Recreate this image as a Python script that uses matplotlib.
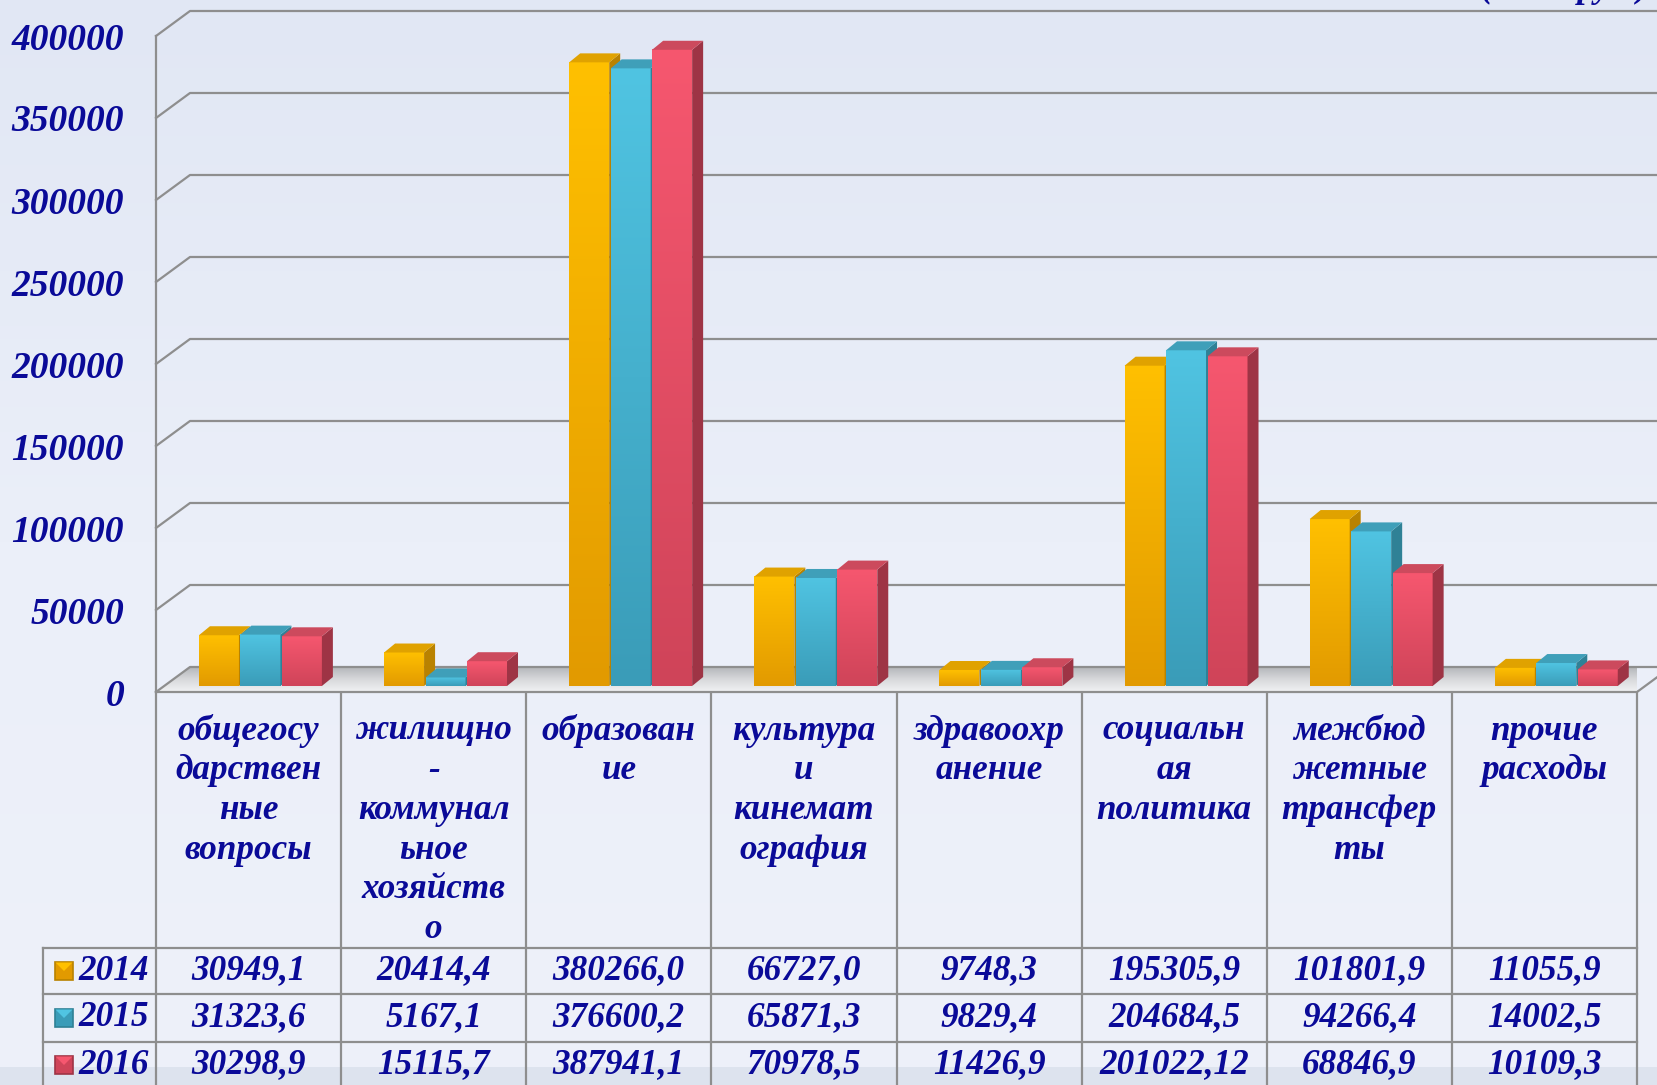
import numpy as np
import matplotlib.pyplot as plt
from matplotlib.patches import Polygon, Rectangle
from matplotlib.colors import LinearSegmentedColormap
from matplotlib.transforms import blended_transform_factory

plt.rcParams['font.family'] = ['Liberation Serif', 'DejaVu Serif']

# --- data -------------------------------------------------------------
categories = [
    'общегосу\nдарствен\nные\nвопросы',
    'жилищно\n-\nкоммунал\nьное\nхозяйств\nо',
    'образован\nие',
    'культура\nи\nкинемат\nография',
    'здравоохр\nанение',
    'социальн\nая\nполитика',
    'межбюд\nжетные\nтрансфер\nты',
    'прочие\nрасходы',
]
years = ['2014', '2015', '2016']
vals_2014 = ['30949,1', '20414,4', '380266,0', '66727,0', '9748,3', '195305,9', '101801,9', '11055,9']
vals_2015 = ['31323,6', '5167,1', '376600,2', '65871,3', '9829,4', '204684,5', '94266,4', '14002,5']
vals_2016 = ['30298,9', '15115,7', '387941,1', '70978,5', '11426,9', '201022,12', '68846,9', '10109,3']
yticks = [0, 50000, 100000, 150000, 200000, 250000, 300000, 350000, 400000]
unit_label = '(тыс. руб.)'

table_rows = [vals_2014, vals_2015, vals_2016]
series = [[float(s.replace(',', '.')) for s in row] for row in table_rows]

colors = [
    dict(top_c='#ffc000', bot_c='#e29a00', side='#b98200', lid='#e0a200'),
    dict(top_c='#50c4e2', bot_c='#3a9cb8', side='#2f8196', lid='#3f9fb9'),
    dict(top_c='#f6576f', bot_c='#cf4459', side='#9e3445', lid='#cc4a5d'),
]
txt_color = '#0a0a98'
font = dict(family=['Liberation Serif', 'DejaVu Serif'], style='italic', weight='bold', color=txt_color)
tfs = 25.3  # table / label font size

# --- figure layout (pixel based) --------------------------------------
W, H = 1657, 1085
x_left, x_right = 156, 1637
y_zero, y_top = 692, 36
ncat = len(categories)

fig = plt.figure(figsize=(W / 100, H / 100), dpi=100)
fig.patch.set_facecolor('#e9edf7')

bg = fig.add_axes([0, 0, 1, 1], zorder=0)
grad = np.linspace(0, 1, 256).reshape(-1, 1)
bg.imshow(grad, cmap=LinearSegmentedColormap.from_list('bg', ['#e1e7f4', '#ebeff9', '#eef1f9']),
          aspect='auto', extent=[0, 1, 0, 1])
bg.add_patch(Rectangle((0, 0), 1, 18 / H, fc='#dde3ee', ec='none'))
bg.set_xlim(0, 1)
bg.set_ylim(0, 1)
bg.axis('off')

ov = fig.add_axes([0, 0, 1, 1], zorder=1)
ov.set_xlim(0, W)
ov.set_ylim(H, 0)
ov.axis('off')

ax = fig.add_axes([x_left / W, (H - y_zero) / H, (x_right - x_left) / W, (y_zero - y_top) / H], zorder=2)
ax.patch.set_visible(False)

ux = ncat / (x_right - x_left)          # data x per pixel
uy = yticks[-1] / (y_zero - y_top)      # data y per pixel
dxw, dyw = 34 * ux, 25 * uy             # depth of back wall
grid_c = '#8e8e8e'

# floor
floor_pts = [(-0.5, 0), (ncat - 0.5, 0), (ncat - 0.5 + dxw, dyw), (-0.5 + dxw, dyw)]
floor = Polygon(floor_pts, fc='none', ec='none', zorder=1.5)
ax.add_patch(floor)
fimg = ax.imshow(grad, cmap=LinearSegmentedColormap.from_list('fl', ['#b4b6ba', '#d8d9dc', '#f1f2f4']),
                 aspect='auto', extent=[-0.5, ncat - 0.5 + dxw, 0, dyw], zorder=1.5)
fimg.set_clip_path(floor)
fimg.set_clip_on(True)

# grid lines on the back wall
for v in yticks:
    ax.plot([-0.5, -0.5 + dxw, ncat + 0.2], [v, v + dyw, v + dyw], color=grid_c, lw=1.6,
            clip_on=False, zorder=1.6)
ax.plot([-0.5, -0.5], [0, yticks[-1]], color=grid_c, lw=1.6, clip_on=False, zorder=1.6)
ax.plot([-0.5, ncat - 0.5, ncat - 0.5 + dxw], [0, 0, dyw], color=grid_c, lw=1.6, clip_on=False, zorder=1.6)

# bars
bw = 40 * ux
lefts = [-0.268, -0.044, 0.180]
b0 = 6 * uy
dxb, dyb = 11 * ux, 9 * uy
for s, (vals, col) in enumerate(zip(series, colors)):
    cm = LinearSegmentedColormap.from_list('c%d' % s, [col['top_c'], col['bot_c']])
    z = 3 + s
    for i, v in enumerate(vals):
        x0 = i + lefts[s]
        x1 = x0 + bw
        top = b0 + v
        ax.imshow(grad, cmap=cm, aspect='auto', extent=[x0, x1, b0, top], zorder=z,
                  interpolation='bilinear')
        ax.add_patch(Polygon([(x1, b0), (x1 + dxb, b0 + dyb), (x1 + dxb, top + dyb), (x1, top)],
                             fc=col['side'], ec='none', zorder=z))
        ax.add_patch(Polygon([(x0, top), (x1, top), (x1 + dxb, top + dyb), (x0 + dxb, top + dyb)],
                             fc=col['lid'], ec='none', zorder=z))

ax.set_xlim(-0.5, ncat - 0.5)
ax.set_ylim(0, yticks[-1])
ax.set_xticks([])
ax.set_yticks(yticks)
ax.set_yticklabels([str(v) for v in yticks], fontsize=27, **font)
ax.tick_params(axis='y', length=0, pad=23)
for sp in ax.spines.values():
    sp.set_visible(False)

# --- table under the chart --------------------------------------------
trans = blended_transform_factory(ax.transData, ov.transData)
line_kw = dict(color=grid_c, lw=1.6)
for k in range(ncat + 1):
    ov.plot([k - 0.5, k - 0.5], [y_zero, H], transform=trans, **line_kw)
row_lines = [948, 994, 1042]
ov.plot([43, 43], [row_lines[0], H], **line_kw)
for y in row_lines:
    ov.plot([43, x_right], [y, y], **line_kw)

for i, lab in enumerate(categories):
    for k, line in enumerate(lab.split('\n')):
        ov.text(i, 731 + k * 39.7, line, transform=trans, ha='center', va='center', fontsize=tfs, **font)

row_y = [971, 1018, 1065]
for r, (yr, row, col) in enumerate(zip(years, table_rows, colors)):
    y = row_y[r]
    for i, s in enumerate(row):
        ov.text(i, y, s, transform=trans, ha='center', va='center', fontsize=tfs, **font)
    ov.add_patch(Rectangle((55, y - 9), 18, 18, fc=col['bot_c'], ec=col['side'], lw=1.2))
    ov.add_patch(Polygon([(55.5, y - 8.5), (72.5, y - 8.5), (64, y)], fc=col['top_c'], ec='none'))
    ov.text(78, y, yr, ha='left', va='center', fontsize=tfs, **font)

# unit caption sits mostly above the top edge, as in the original slide
fig.text(1648 / W, 1 + 3 / H, unit_label, ha='right', va='baseline', fontsize=tfs, **font)

fig.savefig('out.png', dpi=100)
